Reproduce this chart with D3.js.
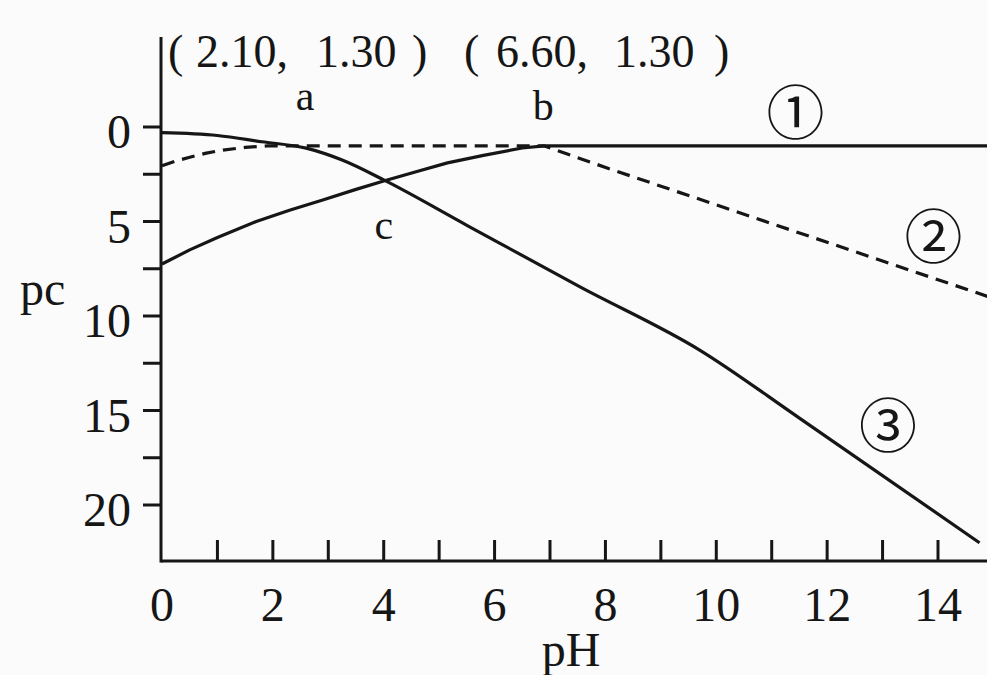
<!DOCTYPE html>
<html><head><meta charset="utf-8">
<script src="https://cdn.jsdelivr.net/npm/d3@7"></script>
<style>body{margin:0;background:#fbfbfb} svg{display:block}</style>
</head><body><svg id="chart" width="987" height="675"></svg>
<script>
// ---- data ----
const xMinorTicks = [1,2,3,4,5,6,7,8,9,10,11,12,13,14];
const xTickLabels = [0,2,4,6,8,10,12,14];
const yTickLabels = [0,5,10,15,20];
const yMinorTicks = [2.5,7.5,12.5,17.5];

// curve ① (solid, rises to b then flat)
const curve1_pH = [0, 0.5, 1.0, 1.7, 2.3, 2.9, 3.5, 4.0, 4.6, 5.15, 5.8, 6.5, 6.9, 14.9];
const curve1_pc = [7.25, 6.5, 5.85, 5.0, 4.4, 3.86, 3.3, 2.86, 2.35, 1.9, 1.5, 1.11, 1.0, 1.0];
// curve ② (dashed)
const curve2_pH = [0, 0.25, 0.5, 0.8, 1.1, 1.5, 1.9, 2.5, 6.9, 8.03, 14.9];
const curve2_pc = [2.05, 1.8, 1.6, 1.38, 1.22, 1.08, 1.0, 1.0, 1.0, 2.17, 8.97];
// curve ③ (solid, falls)
const curve3_pH = [0, 1.0, 1.8, 2.6, 3.25, 4.0, 5.5, 7.55, 9.7, 11.5, 14.75];
const curve3_pc = [0.3, 0.45, 0.78, 1.12, 1.75, 2.8, 5.2, 8.47, 11.8, 15.4, 22.0];

const pointLabels = ["a", "b", "c"];
const pointPH = [2.58, 6.88, 4.0];
const pointPC = [-0.9, -0.35, 5.9];
const curveLabels = ["①", "②", "③"];
const curveLabelPH = [11.43, 13.92, 13.1];
const curveLabelPC = [-0.95, 5.61, 15.6];
const headerParts = ["(", "2.10,", "1.30", ")", "(", "6.60,", "1.30", ")"];

// ---- drawing ----
const svg = d3.select("#chart");
const x = d3.scaleLinear().domain([0, 14]).range([162, 938]);
const y = d3.scaleLinear().domain([0, 20]).range([127, 505]);
const ink = "#161616";
const serif = "'Liberation Serif','Times New Roman',serif";

const axisX0 = 161, axisY1 = 561;

// axes lines
svg.append("line").attr("x1", axisX0).attr("x2", axisX0).attr("y1", y(-4.76)).attr("y2", axisY1 + 1.5)
  .attr("stroke", ink).attr("stroke-width", 3);
svg.append("line").attr("x1", axisX0).attr("x2", 987).attr("y1", axisY1).attr("y2", axisY1)
  .attr("stroke", ink).attr("stroke-width", 3);

// y ticks (outward, left)
svg.selectAll(".ytick").data(yTickLabels.concat(yMinorTicks)).join("line")
  .attr("x1", axisX0 - 18).attr("x2", axisX0).attr("y1", d => y(d)).attr("y2", d => y(d))
  .attr("stroke", ink).attr("stroke-width", 3);
svg.selectAll(".ylab").data(yTickLabels).join("text")
  .attr("x", 131).attr("y", d => y(d) + 21).attr("text-anchor", "end")
  .attr("font-family", serif).attr("font-size", 48).attr("fill", ink).text(d => d);

// x ticks (inward, up)
svg.selectAll(".xtick").data(xMinorTicks).join("line")
  .attr("x1", d => x(d)).attr("x2", d => x(d)).attr("y1", axisY1 - 21).attr("y2", axisY1)
  .attr("stroke", ink).attr("stroke-width", 3);
svg.selectAll(".xlab").data(xTickLabels).join("text")
  .attr("x", d => x(d)).attr("y", 621).attr("text-anchor", "middle")
  .attr("font-family", serif).attr("font-size", 48).attr("fill", ink).text(d => d);

// axis titles
svg.append("text").attr("x", 20).attr("y", 305).attr("font-family", serif).attr("font-size", 48).attr("fill", ink).text("pc");
svg.append("text").attr("x", 571).attr("y", 666).attr("text-anchor", "middle").attr("font-family", serif).attr("font-size", 48).attr("fill", ink).text("pH");

// header
const headerX = [168, 196, 316, 412, 464, 496, 614, 714];
svg.selectAll(".hdr").data(headerParts).join("text")
  .attr("x", (d, i) => headerX[i]).attr("y", 67)
  .attr("font-family", serif).attr("font-size", 46).attr("fill", ink)
  .text(d => d);

// curves
const series = [
  { pH: curve1_pH, pc: curve1_pc, dash: null, curve: d3.curveLinear },
  { pH: curve2_pH, pc: curve2_pc, dash: "13,8", curve: d3.curveLinear },
  { pH: curve3_pH, pc: curve3_pc, dash: null, curve: d3.curveMonotoneX }
];
series.forEach(s => {
  const line = d3.line().x(d => x(d[0])).y(d => y(d[1])).curve(s.curve);
  svg.append("path").datum(s.pH.map((p, i) => [p, s.pc[i]]))
    .attr("d", line).attr("fill", "none").attr("stroke", ink).attr("stroke-width", 3.2)
    .attr("stroke-linejoin", "round")
    .attr("stroke-dasharray", s.dash);
});

// point labels
svg.selectAll(".plab").data(pointLabels).join("text")
  .attr("x", (d, i) => x(pointPH[i])).attr("y", (d, i) => y(pointPC[i]))
  .attr("text-anchor", "middle").attr("font-family", serif).attr("font-size", 42).attr("fill", ink).text(d => d);

// curve labels
svg.selectAll(".clab").data(curveLabels).join("text")
  .attr("x", (d, i) => x(curveLabelPH[i])).attr("y", (d, i) => y(curveLabelPC[i]))
  .attr("text-anchor", "middle").attr("dominant-baseline", "central")
  .attr("font-family", "'Noto Sans CJK SC','DejaVu Sans',sans-serif").attr("font-size", 58).attr("fill", ink).text(d => d);
</script></body></html>
